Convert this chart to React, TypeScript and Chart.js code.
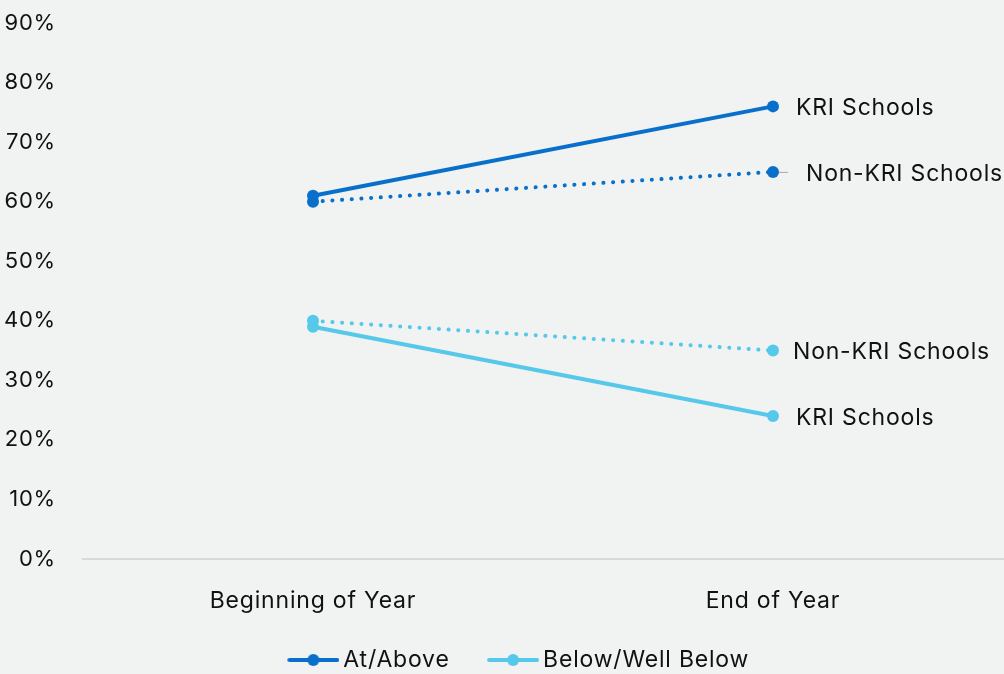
import React, { useEffect, useRef } from "react";
import { Chart, registerables } from "chart.js";

Chart.register(...registerables);

const categories = ["Beginning of Year", "End of Year"];
const atAboveKRI = [61, 76];
const atAboveNonKRI = [60, 65];
const belowKRI = [39, 24];
const belowNonKRI = [40, 35];
const yTicks = [0, 10, 20, 30, 40, 50, 60, 70, 80, 90];
const legendLabels = ["At/Above", "Below/Well Below"];
const endLabels = ["KRI Schools", "Non-KRI Schools", "KRI Schools", "Non-KRI Schools"];

const DARK = "#0870cb";
const LIGHT = "#56c8ea";
const BG = "#f1f2f2";
const FONT = "Inter, 'Noto Sans', sans-serif";
const FS = 23;
const LS = "0.8px";
const BOXW = 70;
const ICONW = 85;

function legendIcon(color: string): HTMLCanvasElement {
  const c = document.createElement("canvas");
  c.width = ICONW;
  c.height = 14;
  const ctx = c.getContext("2d")!;
  const x1 = ICONW - 52;
  ctx.strokeStyle = color;
  ctx.lineWidth = 4;
  ctx.lineCap = "round";
  ctx.beginPath();
  ctx.moveTo(x1 + 2, 7);
  ctx.lineTo(x1 + 50, 7);
  ctx.stroke();
  ctx.fillStyle = color;
  ctx.beginPath();
  ctx.arc(x1 + 26, 7, 6, 0, Math.PI * 2);
  ctx.fill();
  return c;
}

const spacingPlugin = {
  id: "spacing",
  beforeInit(chart: any) {
    chart.ctx.letterSpacing = LS;
  },
  beforeUpdate(chart: any) {
    chart.ctx.letterSpacing = LS;
  },
  afterLayout(chart: any) {
    const lg = chart.legend;
    if (lg) {
      lg.top += 7.5;
      lg.bottom += 7.5;
      lg.left += 4;
      lg.right += 4;
    }
  },
  beforeDraw(chart: any) {
    chart.ctx.letterSpacing = LS;
  },
};

const endLabelPlugin = {
  id: "endLabels",
  afterDatasetsDraw(chart: any) {
    const ctx = chart.ctx;
    ctx.save();
    ctx.font = `${FS}px ${FONT}`;
    ctx.letterSpacing = LS;
    ctx.fillStyle = "#111";
    ctx.textBaseline = "middle";
    ctx.textAlign = "left";
    const offsets = [
      { dx: 23, lead: false },
      { dx: 33, lead: true },
      { dx: 23, lead: false },
      { dx: 20, lead: false },
    ];
    chart.data.datasets.forEach((ds: any, i: number) => {
      const meta = chart.getDatasetMeta(i);
      const pt = meta.data[meta.data.length - 1];
      if (!pt) return;
      const o = offsets[i];
      if (o.lead) {
        ctx.strokeStyle = "#aaaaaa";
        ctx.lineWidth = 1;
        ctx.beginPath();
        ctx.moveTo(pt.x + 6, pt.y + 0.5);
        ctx.lineTo(pt.x + 15, pt.y + 0.5);
        ctx.stroke();
      }
      ctx.fillText(endLabels[i], pt.x + o.dx, pt.y + 2);
    });
    ctx.restore();
  },
};

export default function App() {
  const ref = useRef<HTMLCanvasElement>(null);
  useEffect(() => {
    const iconDark = legendIcon(DARK);
    const iconLight = legendIcon(LIGHT);
    const solid = { borderWidth: 4, pointRadius: 6, pointHoverRadius: 6, pointBorderWidth: 0 };
    const dotted = {
      borderWidth: 4,
      borderDash: [0.1, 9.6],
      borderCapStyle: "round",
      pointRadius: 6,
      pointHoverRadius: 6,
      pointBorderWidth: 0,
    };
    const chart = new Chart(ref.current!, {
      type: "line",
      data: {
        labels: categories,
        datasets: [
          { label: legendLabels[0], data: atAboveKRI, borderColor: DARK, backgroundColor: DARK, ...solid },
          { label: legendLabels[0], data: atAboveNonKRI, borderColor: DARK, backgroundColor: DARK, ...dotted },
          { label: legendLabels[1], data: belowKRI, borderColor: LIGHT, backgroundColor: LIGHT, ...solid },
          { label: legendLabels[1], data: belowNonKRI, borderColor: LIGHT, backgroundColor: LIGHT, ...dotted },
        ] as any,
      },
      options: {
        animation: false,
        responsive: false,
        maintainAspectRatio: false,
        layout: { autoPadding: false, padding: { top: 23, left: 0, right: 1, bottom: 0 } },
        scales: {
          x: {
            offset: true,
            grid: { display: false, drawTicks: false },
            border: { display: true, color: "#d9d9d9", width: 2 },
            ticks: { padding: 28, color: "#111", font: { family: FONT, size: FS } },
            afterFit: (s: any) => {
              s.height = 70;
              s.paddingLeft = 0;
              s.paddingRight = 0;
            },
          },
          y: {
            min: 0,
            max: 90,
            afterBuildTicks: (s: any) => {
              s.ticks = yTicks.map((v) => ({ value: v }));
            },
            grid: { display: false, drawTicks: false },
            border: { display: false },
            ticks: {
              padding: 27,
              color: "#111",
              font: { family: FONT, size: 22 },
              callback: (v: any) => v + "%",
            },
            afterFit: (s: any) => {
              s.width = 83;
              s.paddingTop = 0;
              s.paddingBottom = 0;
            },
          },
        },
        plugins: {
          tooltip: { enabled: false },
          legend: {
            position: "bottom",
            labels: {
              usePointStyle: true,
              pointStyleWidth: BOXW,
              boxHeight: 14,
              padding: 12,
              color: "#111",
              font: { family: FONT, size: FS },
              generateLabels: () => {
                return [0, 2].map((i, k) => ({
                  text: legendLabels[k],
                  datasetIndex: i,
                  pointStyle: k === 0 ? iconDark : iconLight,
                  fillStyle: "transparent",
                  strokeStyle: "transparent",
                  lineWidth: 0,
                  hidden: false,
                  fontColor: "#111",
                }));
              },
            },
          },
        },
      },
      plugins: [spacingPlugin, endLabelPlugin],
    });
    return () => chart.destroy();
  }, []);
  return (
    <div
      style={{
        position: "fixed",
        left: 0,
        top: 0,
        width: 1004,
        height: 674,
        background: BG,
      }}
    >
      <canvas ref={ref} width={1004} height={674} style={{ display: "block" }} />
    </div>
  );
}
